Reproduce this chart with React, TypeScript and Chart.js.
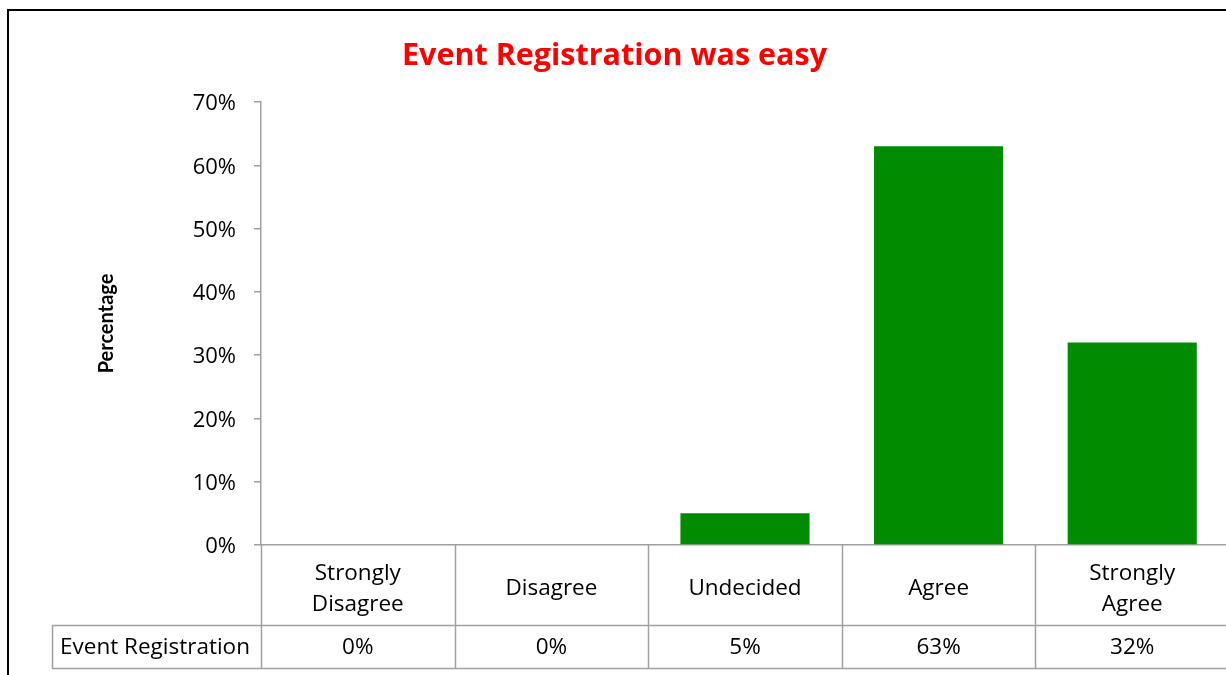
import React, { useEffect, useRef } from "react";
import { Chart, registerables } from "chart.js";

Chart.register(...registerables);

const chartTitle = "Event Registration was easy";
const seriesName = "Event Registration";
const categories: string[][] = [
  ["Strongly", "Disagree"],
  ["Disagree"],
  ["Undecided"],
  ["Agree"],
  ["Strongly", "Agree"],
];
const values: number[] = [0, 0, 5, 63, 32];
const yTicks: number[] = [0, 10, 20, 30, 40, 50, 60, 70];

const FONT = "'Open Sans', Lato, sans-serif";
const TITLE_FONT = "'Open Sans', Lato, sans-serif";
const YTITLE_FONT = "Lato, 'Open Sans', sans-serif";
const GRAY = "#a0a0a0";

const tablePlugin = {
  id: "dataTable",
  beforeDraw(chart: any) {
    const ctx = chart.ctx;
    ctx.save();
    ctx.strokeStyle = "#000";
    ctx.lineWidth = 2;
    ctx.strokeRect(8, 10, 3000, 3000);
    ctx.restore();
  },
  afterDraw(chart: any) {
    const ctx = chart.ctx;
    const x = chart.scales.x;
    const area = chart.chartArea;
    const top = area.bottom;
    const rowSplit = top + 80;
    const bottom = top + 123;
    const labelLeft = 52;
    const n = categories.length;
    const w = (area.right - area.left) / n;
    ctx.save();
    ctx.strokeStyle = GRAY;
    ctx.lineWidth = 1.5;
    for (let i = 0; i <= n; i++) {
      const px = i < n ? x.getPixelForValue(i) - w / 2 : x.getPixelForValue(n - 1) + w / 2;
      ctx.beginPath();
      ctx.moveTo(Math.round(px) + 0.5, top);
      ctx.lineTo(Math.round(px) + 0.5, bottom);
      ctx.stroke();
    }
    ctx.beginPath();
    ctx.moveTo(labelLeft, rowSplit + 0.5);
    ctx.lineTo(area.right + 20, rowSplit + 0.5);
    ctx.moveTo(labelLeft, bottom + 0.5);
    ctx.lineTo(area.right + 20, bottom + 0.5);
    ctx.moveTo(labelLeft + 0.5, rowSplit);
    ctx.lineTo(labelLeft + 0.5, bottom);
    ctx.stroke();

    ctx.fillStyle = "#000";
    ctx.font = `22.5px ${FONT}`;
    ctx.textAlign = "center";
    ctx.textBaseline = "middle";
    const lh = 31;
    categories.forEach((lines, i) => {
      const cx = x.getPixelForValue(i);
      const cy = top + 44;
      const start = cy - ((lines.length - 1) * lh) / 2;
      lines.forEach((ln, j) => ctx.fillText(ln, cx, start + j * lh));
      ctx.fillText(`${values[i]}%`, cx, rowSplit + 23);
    });
    ctx.textAlign = "left";
    ctx.fillText(seriesName, 60, rowSplit + 23);
    ctx.restore();
  },
};

export default function App() {
  const ref = useRef<HTMLCanvasElement>(null);
  useEffect(() => {
    if (!ref.current) return;
    const chart = new Chart(ref.current, {
      type: "bar",
      data: {
        labels: categories.map((c) => c.join(" ")),
        datasets: [
          {
            label: seriesName,
            data: values,
            backgroundColor: "#008b00",
            borderWidth: 0,
            categoryPercentage: 1,
            barPercentage: 0.667,
          },
        ],
      },
      options: {
        animation: false,
        responsive: false,
        devicePixelRatio: 1,
        layout: { padding: { left: 0, right: 3, top: 0, bottom: 0 } },
        plugins: {
          legend: { display: false },
          tooltip: { enabled: false },
          title: {
            display: true,
            text: chartTitle,
            color: "#ff0000",
            font: { family: TITLE_FONT, size: 30.5, weight: "bold", lineHeight: 1.2 },
            padding: { top: 38.5, bottom: 26.9 },
          },
        },
        scales: {
          x: {
            ticks: { display: false },
            grid: { display: false },
            border: { display: true, color: GRAY, width: 1.5 },
            afterFit: (s: any) => {
              s.height = 130;
            },
          },
          y: {
            min: 0,
            max: 70,
            afterBuildTicks: (s: any) => {
              s.ticks = yTicks.map((v) => ({ value: v }));
            },
            ticks: {
              color: "#000",
              padding: 18,
              labelOffset: 2,
              font: { family: FONT, size: 22 },
              callback: (v: any) => `${v}%`,
            },
            grid: {
              drawOnChartArea: false,
              drawTicks: true,
              tickLength: 7,
              color: GRAY,
              lineWidth: 1.5,
            },
            border: { display: true, color: GRAY, width: 1.5 },
            title: {
              display: true,
              text: "Percentage",
              color: "#000",
              font: { family: YTITLE_FONT, size: 20, weight: "bold", lineHeight: 1.2 },
              padding: { top: 95, bottom: 0 },
            },
            afterFit: (s: any) => {
              s.width = 261;
            },
          },
        },
      },
      plugins: [tablePlugin],
    });
    return () => chart.destroy();
  }, []);
  return (
    <div
      style={{
        position: "absolute",
        left: 0,
        top: 0,
        width: 1226,
        height: 675,
        overflow: "hidden",
        background: "#fff",
      }}
    >
      <canvas ref={ref} width={1232} height={675} style={{ display: "block" }} />
    </div>
  );
}
